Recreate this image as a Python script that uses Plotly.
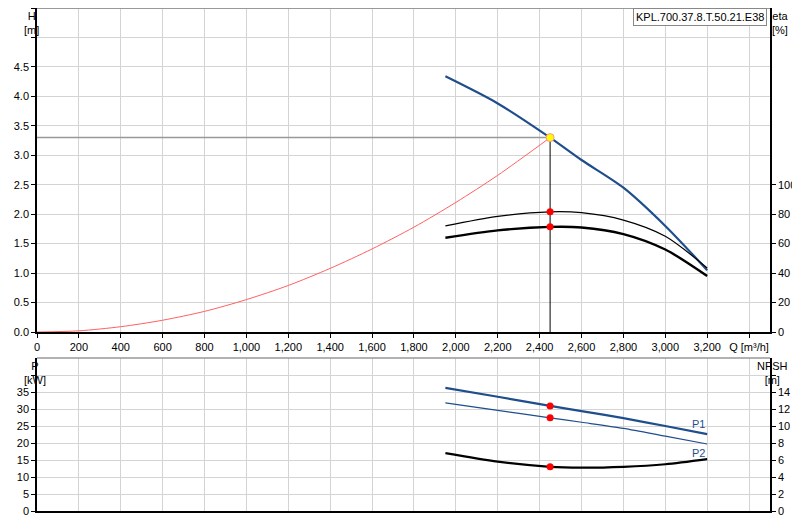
import plotly.graph_objects as go

# pump curve data
q_pump = [1950, 2200, 2450, 2600, 2800, 3000, 3200]
h_pump = [4.34, 3.88, 3.30, 2.92, 2.45, 1.80, 1.05]
eta1 = [72, 78.5, 81.6, 81, 76, 65, 43.5]
eta2 = [64, 69, 71.4, 71, 66.5, 56, 38]
p1 = [36.2, 33.6, 30.9, 29.4, 27.3, 25.0, 22.6]
p2 = [31.8, 29.6, 27.4, 26.1, 24.3, 22.0, 19.7]
npsh = [6.8, 5.8, 5.2, 5.1, 5.2, 5.5, 6.1]

q_sys = [0, 200, 400, 600, 800, 1000, 1200, 1400, 1600, 1800, 2000, 2200, 2450]
h_sys = [0, 0.02, 0.09, 0.2, 0.35, 0.55, 0.79, 1.08, 1.41, 1.78, 2.2, 2.66, 3.3]

q_duty = 2450
h_duty = 3.3
eta1_duty = 81.6
eta2_duty = 71.4
p1_duty = 30.9
p2_duty = 27.4
npsh_duty = 5.2

q_ticks = list(range(0, 3400, 200))
q_labels = [f"{v:,}" for v in q_ticks]

fig = go.Figure()
sp = dict(shape="spline", smoothing=0.8)

fig.add_trace(go.Scatter(x=q_sys, y=h_sys, mode="lines", line=dict(color="#ff6060", width=1, **sp), xaxis="x", yaxis="y"))
fig.add_trace(go.Scatter(x=[0, q_duty], y=[h_duty, h_duty], mode="lines", line=dict(color="#999999", width=1.5), xaxis="x", yaxis="y"))
fig.add_trace(go.Scatter(x=[q_duty, q_duty], y=[0, h_duty], mode="lines", line=dict(color="black", width=1), xaxis="x", yaxis="y"))
fig.add_trace(go.Scatter(x=q_pump, y=h_pump, mode="lines", line=dict(color="#1f4e8c", width=2.2, **sp), xaxis="x", yaxis="y"))
fig.add_trace(go.Scatter(x=q_pump, y=eta1, mode="lines", line=dict(color="black", width=1.2, **sp), xaxis="x", yaxis="y2"))
fig.add_trace(go.Scatter(x=q_pump, y=eta2, mode="lines", line=dict(color="black", width=2.4, **sp), xaxis="x", yaxis="y2"))
fig.add_trace(go.Scatter(x=[q_duty, q_duty], y=[eta1_duty, eta2_duty], mode="markers", marker=dict(color="red", size=7), xaxis="x", yaxis="y2"))
fig.add_trace(go.Scatter(x=[q_duty], y=[h_duty], mode="markers", marker=dict(color="yellow", size=8, line=dict(color="#ff9090", width=1)), xaxis="x", yaxis="y"))

fig.add_trace(go.Scatter(x=q_pump, y=p1, mode="lines", line=dict(color="#1f4e8c", width=2.2, **sp), xaxis="x2", yaxis="y3"))
fig.add_trace(go.Scatter(x=q_pump, y=p2, mode="lines", line=dict(color="#1f4e8c", width=1.2, **sp), xaxis="x2", yaxis="y3"))
fig.add_trace(go.Scatter(x=q_pump, y=npsh, mode="lines", line=dict(color="black", width=2.2, **sp), xaxis="x2", yaxis="y4"))
fig.add_trace(go.Scatter(x=[q_duty, q_duty], y=[p1_duty, p2_duty], mode="markers", marker=dict(color="red", size=7), xaxis="x2", yaxis="y3"))
fig.add_trace(go.Scatter(x=[q_duty], y=[npsh_duty], mode="markers", marker=dict(color="red", size=7), xaxis="x2", yaxis="y4"))

grid = "#d4d4d4"
ax = dict(showline=True, linecolor="black", linewidth=1.5, ticks="outside", ticklen=4, tickcolor="black",
          gridcolor=grid, zeroline=False, automargin=False, tickfont=dict(size=11, color="black"))
dom_x = [29 / 800, 762 / 800]
top_dom = [1 - 324 / 520, 1]
bot_dom = [1 - 503 / 520, 1 - 350 / 520]

fig.update_layout(
    width=800, height=520, margin=dict(l=0, r=0, t=0, b=0),
    paper_bgcolor="white", plot_bgcolor="white", showlegend=False,
    font=dict(family="Liberation Sans, Arial", size=11, color="black"),
    xaxis=dict(ax, domain=dom_x, range=[0, 3500], anchor="y", tickmode="array",
               tickvals=q_ticks + [3400], ticktext=q_labels + ["Q [m³/h]"]),
    yaxis=dict(ax, domain=top_dom, range=[0, 5.5], tickmode="array",
               tickvals=[i * 0.5 for i in range(12)], ticktext=[f"{i*0.5:.1f}" for i in range(10)] + ["", ""]),
    yaxis2=dict(ax, overlaying="y", side="right", anchor="x", range=[0, 220], tickvals=[0, 20, 40, 60, 80, 100],
                showgrid=False),
    xaxis2=dict(ax, domain=dom_x, range=[0, 3500], anchor="y3", dtick=200, showticklabels=False, ticks=""),
    yaxis3=dict(ax, domain=bot_dom, range=[0, 45], tickmode="array", tickvals=list(range(0, 45, 5)),
                ticktext=[str(v) for v in range(0, 40, 5)] + [""]),
    yaxis4=dict(ax, overlaying="y3", side="right", anchor="x2", range=[0, 18], tickmode="array",
                tickvals=list(range(0, 18, 2)), ticktext=[str(v) for v in range(0, 16, 2)] + [""], showgrid=False),
)

# frame lines at the top of both plots
fig.add_shape(type="line", xref="paper", yref="paper", x0=dom_x[0], x1=dom_x[1], y0=1, y1=1, line=dict(color="#999999", width=2))
fig.add_shape(type="line", xref="paper", yref="paper", x0=dom_x[0], x1=dom_x[1], y0=bot_dom[1], y1=bot_dom[1], line=dict(color="#999999", width=1.5))

ann = [
    dict(x=14 / 800, y=1, text="H<br>[m]", yanchor="top"),
    dict(x=782 / 800, y=1, text="eta<br>[%]", yanchor="top"),
    dict(x=14 / 800, y=bot_dom[1], text="P<br>[kW]", yanchor="top"),
    dict(x=782 / 800, y=bot_dom[1], text="NPSH<br>[m]", yanchor="top"),
]
for a in ann:
    fig.add_annotation(xref="paper", yref="paper", showarrow=False, font=dict(size=11), **a)

fig.add_annotation(xref="paper", yref="paper", x=759 / 800, y=1, xanchor="right", yanchor="top",
                   text="KPL.700.37.8.T.50.21.E38", showarrow=False, bgcolor="white",
                   bordercolor="#888888", borderwidth=1, borderpad=2, font=dict(size=11))
fig.add_annotation(x=3200, y=p1[-1], xref="x2", yref="y3", text="P1", showarrow=False, yshift=10, xanchor="right",
                   font=dict(color="#1f4e8c", size=11))
fig.add_annotation(x=3200, y=p2[-1], xref="x2", yref="y3", text="P2", showarrow=False, yshift=-9, xanchor="right",
                   font=dict(color="#1f4e8c", size=11))

fig.write_html("out.html")
